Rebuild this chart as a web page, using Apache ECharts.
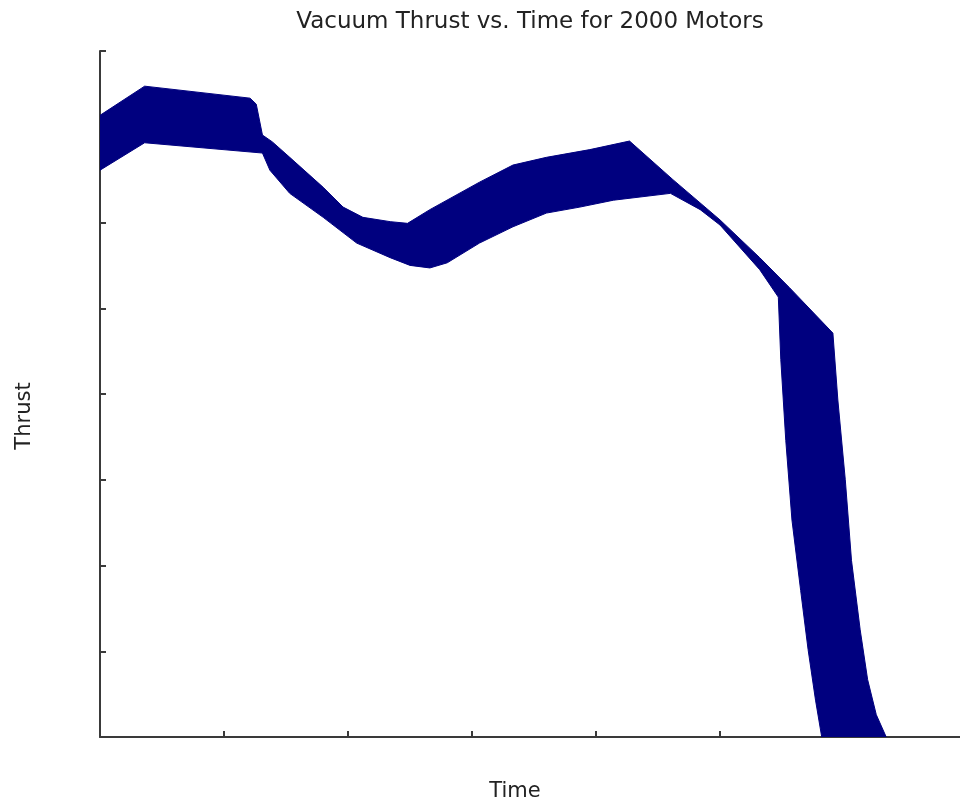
<!DOCTYPE html>
<html>
<head>
<meta charset="utf-8">
<script src="https://cdn.jsdelivr.net/npm/echarts@6/dist/echarts.min.js"></script>
<style>html,body{margin:0;padding:0;background:#fff;}#chart{width:960px;height:806px;}</style>
</head>
<body>
<div id="chart"></div>
<script>
// Upper envelope of the 2000 thrust curves
var timeUpper = [0, 0.36, 1.21, 1.26, 1.31, 1.39, 1.53, 1.80, 1.96, 2.12, 2.34, 2.48, 2.66, 3.06, 3.33, 3.60, 3.95, 4.27, 4.62, 5.00, 5.32, 5.56, 5.91, 5.95, 6.01, 6.06, 6.13, 6.19, 6.26, 6.34];
var thrustUpper = [7.25, 7.59, 7.45, 7.38, 7.02, 6.94, 6.76, 6.41, 6.18, 6.06, 6.01, 5.99, 6.15, 6.47, 6.67, 6.76, 6.85, 6.95, 6.50, 6.03, 5.59, 5.24, 4.71, 3.93, 3.00, 2.06, 1.25, 0.67, 0.26, 0];
// Lower envelope of the 2000 thrust curves
var timeLower = [0, 0.36, 1.31, 1.37, 1.53, 1.80, 2.07, 2.34, 2.50, 2.66, 2.80, 3.06, 3.33, 3.60, 3.87, 4.14, 4.60, 4.84, 5.00, 5.32, 5.47, 5.49, 5.53, 5.58, 5.65, 5.71, 5.77, 5.82];
var thrustLower = [6.61, 6.93, 6.81, 6.61, 6.34, 6.06, 5.76, 5.59, 5.50, 5.47, 5.53, 5.76, 5.95, 6.11, 6.18, 6.26, 6.34, 6.15, 5.97, 5.45, 5.13, 4.40, 3.46, 2.53, 1.71, 1.02, 0.43, 0];
// Tick positions
var timeTicks = [0, 1, 2, 3, 4, 5, 6];
var thrustTicks = [0, 1, 2, 3, 4, 5, 6, 7, 8];

var titleText = 'Vacuum Thrust vs. Time for 2000 Motors';
var xName = 'Time';
var yName = 'Thrust';

var chart = echarts.init(document.getElementById('chart'), null, {renderer: 'canvas'});
var axisColor = '#3a3a3a';
var font = '"DejaVu Sans", Verdana, sans-serif';

chart.setOption({
  animation: false,
  backgroundColor: '#ffffff',
  grid: {left: 100, top: 51, width: 860, height: 686, containLabel: false},
  xAxis: {
    type: 'value', min: 0, max: 6.935, interval: 1,
    axisLine: {show: true, onZero: false, lineStyle: {color: axisColor, width: 2}},
    axisTick: {show: true, inside: true, length: 6, customValues: timeTicks, lineStyle: {color: axisColor, width: 2}},
    axisLabel: {show: false},
    splitLine: {show: false}
  },
  yAxis: {
    type: 'value', min: 0, max: 8, interval: 1,
    axisLine: {show: true, onZero: false, lineStyle: {color: axisColor, width: 2}},
    axisTick: {show: true, inside: true, length: 6, customValues: thrustTicks, lineStyle: {color: axisColor, width: 2}},
    axisLabel: {show: false},
    splitLine: {show: false}
  },
  graphic: [
    {type: 'text', x: 530, y: 22, style: {text: titleText, font: '23px ' + font, fill: '#222', textAlign: 'center', textVerticalAlign: 'middle'}},
    {type: 'text', x: 515, y: 792, style: {text: xName, font: '21px ' + font, fill: '#222', textAlign: 'center', textVerticalAlign: 'middle'}},
    {type: 'text', x: 25, y: 416, rotation: Math.PI / 2, style: {text: yName, font: '21px ' + font, fill: '#222', textAlign: 'center', textVerticalAlign: 'middle'}}
  ],
  series: [{
    type: 'custom',
    coordinateSystem: 'cartesian2d',
    clip: true,
    data: [[0, 0]],
    renderItem: function (params, api) {
      var pts = [];
      for (var i = 0; i < timeUpper.length; i++) pts.push(api.coord([timeUpper[i], thrustUpper[i]]));
      for (var j = timeLower.length - 1; j >= 0; j--) pts.push(api.coord([timeLower[j], thrustLower[j]]));
      return {type: 'polygon', shape: {points: pts}, style: {fill: '#00007f', stroke: '#00007f', lineWidth: 1}};
    }
  }]
});
</script>
</body>
</html>
